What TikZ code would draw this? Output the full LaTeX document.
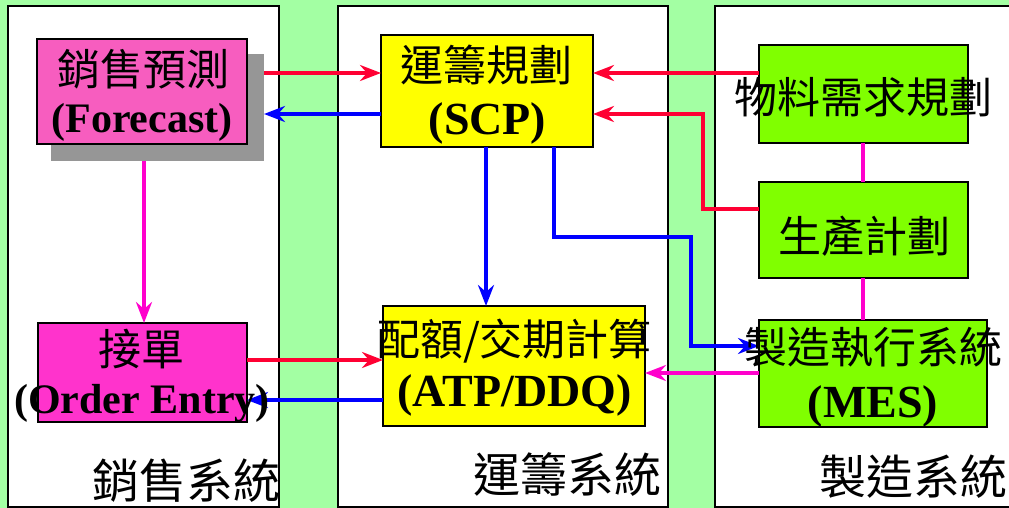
\documentclass[tikz,border=0pt]{standalone}
\usepackage{fontspec}
\setmainfont{Liberation Serif}
\newfontfamily\cjk{Noto Sans CJK TC}
\usetikzlibrary{arrows.meta}
\definecolor{bggreen}{RGB}{163,255,163}
\definecolor{fcpink}{RGB}{247,93,191}
\definecolor{oepink}{RGB}{255,51,204}
\definecolor{boxyellow}{RGB}{255,255,0}
\definecolor{boxgreen}{RGB}{128,255,0}
\definecolor{lred}{RGB}{255,0,51}
\definecolor{lblue}{RGB}{0,0,255}
\definecolor{lmag}{RGB}{255,0,204}
\definecolor{shgray}{RGB}{150,150,150}
\tikzset{
  colbox/.style={draw=black,line width=2.5pt,fill=white},
  sysbox/.style={draw=black,line width=2.2pt,inner sep=0pt,outer sep=0pt},
  shadowbox/.style={fill=shgray,draw=none,inner sep=0pt,outer sep=0pt},
  conn/.style={line width=4.5pt},
  arr/.style={-{Stealth[length=21pt,width=16pt,inset=7pt]}},
  cjklab/.style={font=\cjk\fontsize{43}{48}\selectfont,inner sep=0pt,anchor=center},
  latlab/.style={font=\bfseries\fontsize{42}{48}\selectfont,inner sep=0pt,anchor=base},
  latbig/.style={font=\bfseries\fontsize{46}{52}\selectfont,inner sep=0pt,anchor=base},
  syslab/.style={font=\cjk\fontsize{47}{52}\selectfont,inner sep=0pt,anchor=center},
}
\begin{document}
\begin{tikzpicture}[x=1pt,y=-1pt]
\useasboundingbox (0,0) rectangle (1009,508);
\clip (0,0) rectangle (1009,508);
\fill[bggreen] (0,0) rectangle (1009,508);
% columns
\draw[colbox] (8,6) rectangle (279,507);
\draw[colbox] (338,6) rectangle (668,507);
\draw[colbox] (715,6) rectangle (1020,507);
% boxes
\node[shadowbox,minimum width=213pt,minimum height=107pt] (fcs) at (157.5,107.5) {};
\node[sysbox,fill=fcpink,minimum width=210pt,minimum height=105pt] (fc) at (142,91.5) {};
\node[sysbox,fill=oepink,minimum width=209pt,minimum height=99pt] (oe) at (142.5,372.5) {};
\node[sysbox,fill=boxyellow,minimum width=212pt,minimum height=112pt] (scp) at (487,91) {};
\node[sysbox,fill=boxyellow,minimum width=262pt,minimum height=120pt] (atp) at (514,366) {};
\node[sysbox,fill=boxgreen,minimum width=209pt,minimum height=98pt] (mrp) at (863.5,94) {};
\node[sysbox,fill=boxgreen,minimum width=209pt,minimum height=96pt] (pp) at (863.5,230) {};
\node[sysbox,fill=boxgreen,minimum width=228pt,minimum height=107pt] (mes) at (873,373.5) {};
% connectors
\draw[conn,lred,arr] (fcs.east |- 0,73) -- (scp.west |- 0,73);
\draw[conn,lblue,arr] (scp.west |- 0,114) -- (fcs.east |- 0,114);
\draw[conn,lmag,arr] (fcs.south -| 144,0) -- (oe.north -| 144,0);
\draw[conn,lred,arr] (oe.east |- 0,360) -- (atp.west |- 0,360);
\draw[conn,lblue,arr] (atp.west |- 0,400) -- (oe.east |- 0,400);
\draw[conn,lblue,arr] (scp.south -| 486,0) -- (atp.north -| 486,0);
\draw[conn,lblue,arr] (scp.south -| 554,0) -- (554,237) -- (691,237) -- (691,346) -- (mes.west |- 0,346);
\draw[conn,lred,arr] (mrp.west |- 0,73) -- (scp.east |- 0,73);
\draw[conn,lred,arr] (pp.west |- 0,209) -- (703,209) -- (703,114) -- (scp.east |- 0,114);
\draw[conn,lmag,arr] (mes.west |- 0,373) -- (atp.east |- 0,373);
\draw[conn,lmag] (mrp.south -| 863,0) -- (pp.north -| 863,0);
\draw[conn,lmag] (pp.south -| 863,0) -- (mes.north -| 863,0);
% labels
\node[cjklab] (fct) at (143.5,69) {銷售預測};
\node[latlab] (fcl) at (142,132) {(Forecast)};
\node[cjklab] (oet) at (141.5,349) {接單};
\node[latlab] (oel) at (142,413) {(Order Entry)};
\node[cjklab] (scpt) at (486.5,65) {運籌規劃};
\node[latbig] (scpl) at (487.5,135) {(SCP)};
\node[cjklab] (atpt) at (514.5,341) {配額/交期計算};
\node[latbig] (atpl) at (514.5,406) {(ATP/DDQ)};
\node[cjklab] (mrpt) at (863.5,97) {物料需求規劃};
\node[cjklab] (ppt) at (864,236) {生產計劃};
\node[cjklab] (mest) at (873.5,347) {製造執行系統};
\node[latbig] (mesl) at (873,417) {(MES)};
\node[syslab] (s1) at (186,481) {銷售系統};
\node[syslab] (s2) at (567.5,474) {運籌系統};
\node[syslab] (s3) at (913.5,477) {製造系統};
\end{tikzpicture}
\end{document}
